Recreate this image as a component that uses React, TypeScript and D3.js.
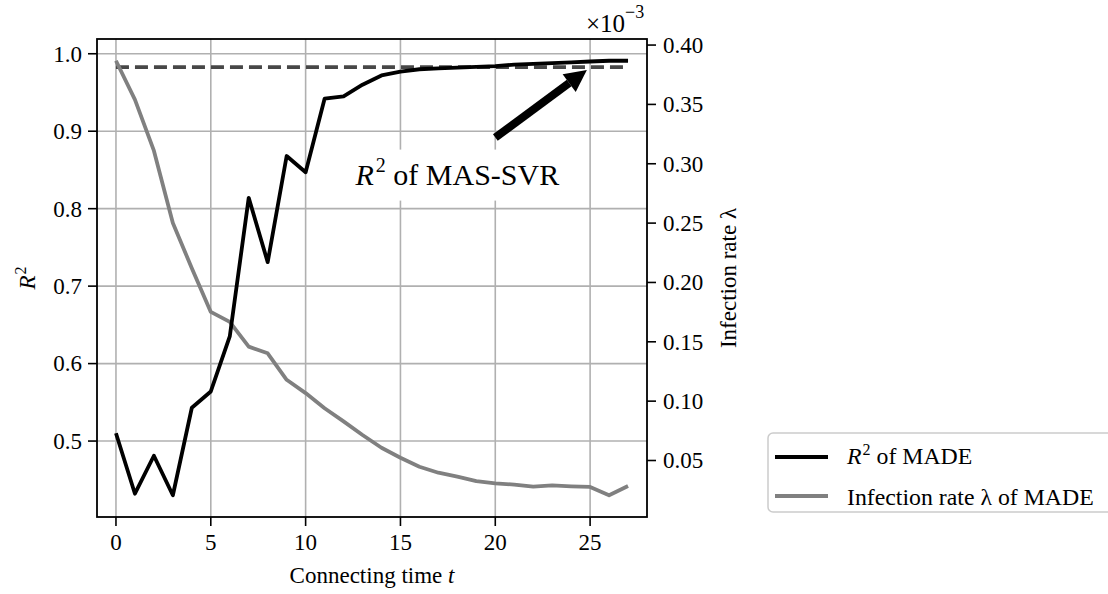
import React from "react";
import * as d3 from "d3";

// connecting time t (x axis)
const connectingTime = [
  0, 1, 2, 3, 4, 5, 6, 7, 8, 9, 10, 11, 12, 13, 14, 15, 16, 17, 18, 19, 20,
  21, 22, 23, 24, 25, 26, 27,
];
// R^2 of MADE (left axis)
const r2Made = [
  0.51, 0.432, 0.481, 0.43, 0.543, 0.564, 0.635, 0.814, 0.731, 0.868, 0.847,
  0.942, 0.945, 0.96, 0.972, 0.977, 0.98, 0.981, 0.982, 0.983, 0.984, 0.986,
  0.987, 0.988, 0.989, 0.99, 0.991, 0.991,
];
// infection rate lambda of MADE, x1e-3 (right axis)
const infectionRate = [
  0.3868, 0.354, 0.311, 0.25, 0.212, 0.1752, 0.1668, 0.1459, 0.1403, 0.118,
  0.1068, 0.094, 0.083, 0.0715, 0.0607, 0.0523, 0.0447, 0.0397, 0.0364,
  0.0327, 0.0308, 0.0297, 0.028, 0.029, 0.0282, 0.0277, 0.0207, 0.0285,
];
// R^2 of MAS-SVR (reference, dashed)
const r2MasSvr = 0.9828;

const xTicks = [0, 5, 10, 15, 20, 25];
const leftTicks = [0.5, 0.6, 0.7, 0.8, 0.9, 1.0];
const rightTicks = [0.05, 0.1, 0.15, 0.2, 0.25, 0.3, 0.35, 0.4];

const W = 1108;
const H = 594;
const FONT = '"Liberation Serif", "Times New Roman", "DejaVu Serif", serif';

// plot box
const L = 97, R = 647, T = 39, B = 517;

function padded(vals: number[]): [number, number] {
  const lo = d3.min(vals)!, hi = d3.max(vals)!;
  const m = (hi - lo) * 0.05;
  return [lo - m, hi + m];
}

export default function App() {
  const x = d3.scaleLinear().domain([-1, 28]).range([L, R]);
  const yL = d3.scaleLinear().domain(padded(r2Made)).range([B, T]);
  const yR = d3.scaleLinear().domain(padded(infectionRate)).range([B, T]);

  const lineL = d3
    .line<number>()
    .x((_, i) => x(connectingTime[i]))
    .y((d) => yL(d));
  const lineR = d3
    .line<number>()
    .x((_, i) => x(connectingTime[i]))
    .y((d) => yR(d));

  // annotation: text centre + arrow tip in data coords
  const tx = x(18.0);
  const ty = yL(0.844);
  const tip: [number, number] = [x(24.83), yL(0.979)];
  const tail: [number, number] = [tx + 38, ty - 37];
  const ang = Math.atan2(tip[1] - tail[1], tip[0] - tail[0]);
  const headLen = 22, headW = 11, shaftW = 8;
  const bx = tip[0] - headLen * Math.cos(ang);
  const by = tip[1] - headLen * Math.sin(ang);
  const nx = -Math.sin(ang), ny = Math.cos(ang);
  const head = [
    [tip[0], tip[1]],
    [bx + nx * headW, by + ny * headW],
    [bx - nx * headW, by - ny * headW],
  ]
    .map((p) => p.join(","))
    .join(" ");

  return (
    <svg width={W} height={H} style={{ position: "absolute", left: 0, top: 0, fontFamily: FONT }}>
      <rect width={W} height={H} fill="#fff" />
      {/* grid */}
      <g stroke="#b0b0b0" strokeWidth={1.6}>
        {xTicks.map((t) => (
          <line key={"gx" + t} x1={x(t)} x2={x(t)} y1={T} y2={B} />
        ))}
        {leftTicks.map((v) => (
          <line key={"gy" + v} x1={L} x2={R} y1={yL(v)} y2={yL(v)} />
        ))}
      </g>

      {/* annotation box hides the grid */}
      <rect x={tx - 112} y={ty - 25} width={225} height={51} fill="#fff" />

      {/* MAS-SVR dashed reference */}
      <line
        x1={x(connectingTime[0])}
        x2={x(connectingTime[connectingTime.length - 1])}
        y1={yL(r2MasSvr)}
        y2={yL(r2MasSvr)}
        stroke="#474747"
        strokeWidth={3.7}
        strokeDasharray="13 6"
      />
      <path d={lineR(infectionRate)!} fill="none" stroke="#808080" strokeWidth={3.8} strokeLinejoin="round" />
      <path d={lineL(r2Made)!} fill="none" stroke="#000" strokeWidth={3.8} strokeLinejoin="round" />

      {/* arrow */}
      <line x1={tail[0]} y1={tail[1]} x2={bx} y2={by} stroke="#000" strokeWidth={shaftW} />
      <polygon points={head} fill="#000" />
      <text x={tx} y={ty + 10} fontSize={30} textAnchor="middle">
        <tspan fontStyle="italic">R</tspan>
        <tspan fontSize={20} dy={-13} dx={2}>2</tspan>
        <tspan dy={13}> of MAS-SVR</tspan>
      </text>

      {/* spines */}
      <rect x={L} y={T} width={R - L} height={B - T} fill="none" stroke="#000" strokeWidth={1.8} />

      {/* x axis */}
      {xTicks.map((t) => (
        <g key={"xt" + t} transform={`translate(${x(t)},${B})`}>
          <line y2={9} stroke="#000" strokeWidth={1.6} />
          <text y={33} fontSize={23} textAnchor="middle">{t}</text>
        </g>
      ))}
      <text x={(L + R) / 2} y={583} fontSize={23} textAnchor="middle">
        Connecting time <tspan fontStyle="italic">t</tspan>
      </text>

      {/* left axis */}
      {leftTicks.map((v) => (
        <g key={"yl" + v} transform={`translate(${L},${yL(v)})`}>
          <line x2={-9} stroke="#000" strokeWidth={1.6} />
          <text x={-15} dy="0.34em" fontSize={23} textAnchor="end">{d3.format(".1f")(v)}</text>
        </g>
      ))}
      <text transform={`translate(35,${(T + B) / 2}) rotate(-90)`} fontSize={23} textAnchor="middle">
        <tspan fontStyle="italic">R</tspan>
        <tspan fontSize={16} dy={-9} dx={1}>2</tspan>
      </text>

      {/* right axis */}
      {rightTicks.map((v) => (
        <g key={"yr" + v} transform={`translate(${R},${yR(v)})`}>
          <line x2={9} stroke="#000" strokeWidth={1.6} />
          <text x={16} dy="0.34em" fontSize={23}>{d3.format(".2f")(v)}</text>
        </g>
      ))}
      <text x={586} y={32} fontSize={25}>
        ×10<tspan fontSize={18} dy={-14}>−3</tspan>
      </text>
      <text transform={`translate(736,${(T + B) / 2}) rotate(-90)`} fontSize={23} textAnchor="middle">
        Infection rate λ
      </text>

      {/* legend */}
      <rect x={768} y={433} width={360} height={79} rx={5} fill="#fff" stroke="#cccccc" strokeWidth={1.5} />
      <line x1={775} x2={828} y1={457} y2={457} stroke="#000" strokeWidth={3.8} />
      <text x={847} y={464} fontSize={23.8}>
        <tspan fontStyle="italic">R</tspan>
        <tspan fontSize={16} dy={-9} dx={1}>2</tspan>
        <tspan dy={9}> of MADE</tspan>
      </text>
      <line x1={775} x2={828} y1={496} y2={496} stroke="#808080" strokeWidth={3.8} />
      <text x={847} y={505} fontSize={23.8}>Infection rate λ of MADE</text>
    </svg>
  );
}
